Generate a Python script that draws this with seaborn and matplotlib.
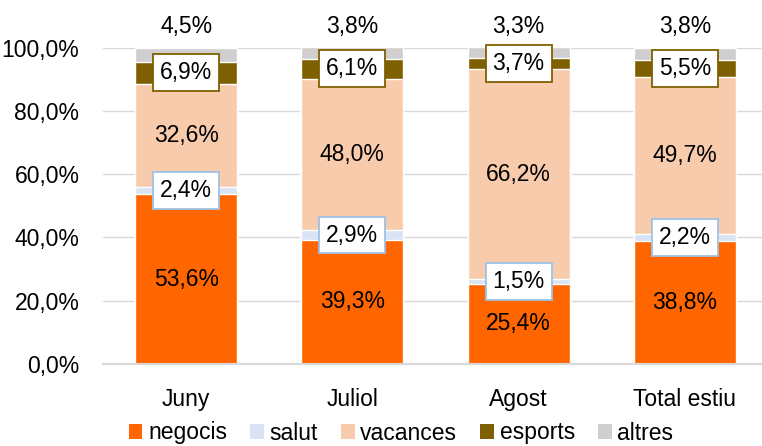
import numpy as np
import pandas as pd
import matplotlib
matplotlib.use('Agg')
import matplotlib.pyplot as plt
from matplotlib.patches import Patch
from matplotlib.ticker import FuncFormatter
import seaborn as sns

# dades (percentatges per mes)
mesos = ['Juny', 'Juliol', 'Agost', 'Total estiu']
negocis = [53.6, 39.3, 25.4, 38.8]
salut = [2.4, 2.9, 1.5, 2.2]
vacances = [32.6, 48.0, 66.2, 49.7]
esports = [6.9, 6.1, 3.7, 5.5]
altres = [4.5, 3.8, 3.3, 3.8]

series_names = ['negocis', 'salut', 'vacances', 'esports', 'altres']
colors = ['#FF6600', '#DAE3F3', '#F8CBAD', '#7F6000', '#D0CECE']

sns.set_theme(style='white')
plt.rcParams['font.family'] = ['Liberation Sans Narrow', 'Liberation Sans', 'DejaVu Sans']
plt.rcParams['text.color'] = 'black'
FS = 16.5

df = pd.DataFrame({'mes': mesos, 'negocis': negocis, 'salut': salut,
                   'vacances': vacances, 'esports': esports, 'altres': altres})
cum = df[series_names].cumsum(axis=1)

fig = plt.figure(figsize=(7.62, 4.46), dpi=100)
ax = fig.add_axes([103/762, 82/446, (762-103)/762, (364-47.5)/446])

# stacked bars: draw cumulative totals from top down
for name, col in reversed(list(zip(series_names, colors))):
    sns.barplot(x=df['mes'], y=cum[name], color=col, saturation=1,
                width=0.613, ax=ax, zorder=2)

ax.set_xlim(-0.5, 3.464)
ax.set_ylim(0, 100)
ax.set_yticks(np.arange(0, 101, 20))
ax.yaxis.set_major_formatter(FuncFormatter(lambda v, p: f'{v:.1f}%'.replace('.', ',')))
ax.grid(axis='y', color='#D9D9D9', linewidth=1.0, zorder=0)
ax.set_axisbelow(True)
for s in ['top', 'right', 'left']:
    ax.spines[s].set_visible(False)
ax.spines['bottom'].set_color('#D9D9D9')
ax.spines['bottom'].set_linewidth(1.5)
ax.set_xlabel('')
ax.set_ylabel('')
ax.tick_params(axis='y', length=0, pad=17, labelsize=FS, labelcolor='black')
ax.tick_params(axis='x', length=0, pad=17, labelsize=FS, labelcolor='black')

def fmt(v):
    return f'{v:.1f}%'.replace('.', ',')

for i in range(len(mesos)):
    base = 0
    for name in series_names:
        v = df[name][i]
        mid = base + v / 2
        if name in ('negocis', 'vacances'):
            ax.text(i, mid, fmt(v), ha='center', va='center', fontsize=FS, color='black', zorder=5)
        elif name == 'salut':
            ax.text(i, mid, fmt(v), ha='center', va='center', fontsize=FS, color='black', zorder=5,
                    bbox=dict(boxstyle='square,pad=0.3', fc='white', ec='#9DC3E6', lw=1.3))
        elif name == 'esports':
            ax.text(i, mid, fmt(v), ha='center', va='center', fontsize=FS, color='black', zorder=5,
                    bbox=dict(boxstyle='square,pad=0.3', fc='white', ec='#7F6000', lw=1.3))
        else:
            ax.text(i, 106.5, fmt(v), ha='center', va='center', fontsize=FS, color='black',
                    zorder=5, clip_on=False)
        base += v

handles = [Patch(facecolor=c, edgecolor='none', label=n) for n, c in zip(series_names, colors)]
fig.legend(handles=handles, loc='center', bbox_to_anchor=(401/762, 1 - 433/446),
           ncol=5, frameon=False, fontsize=FS, handlelength=0.6, handleheight=0.6,
           handletextpad=0.25, columnspacing=1.0, borderpad=0, borderaxespad=0,
           labelcolor='black')

fig.savefig('out.png', dpi=100)
